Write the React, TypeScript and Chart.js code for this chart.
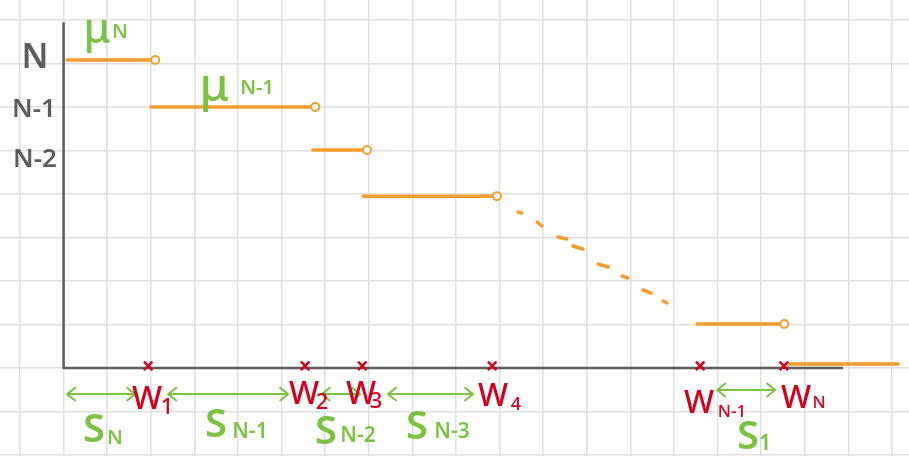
import React, { useEffect, useRef } from "react";
import { Chart, registerables } from "chart.js";

Chart.register(...registerables);

// ---- data (grid units: 1 unit = one grid cell; origin at the axes corner) ----
const stepLevels = [7.08, 6.0, 5.01, 3.95, 1.01, 0.09];
const stepStarts = [0.08, 2.0, 5.72, 6.87, 14.53, 16.6];
const stepEnds = [2.1, 5.77, 6.96, 9.94, 16.53, 19.14];
const stepOpenEnd = [true, true, true, true, true, false];

// hand-drawn dashes between the 4th step and the (N-1)th step, as [x1, x2] / [y1, y2]
const dashX1 = [10.42, 10.86, 11.34, 11.68, 12.26, 12.81, 13.29, 13.75];
const dashX2 = [10.51, 10.97, 11.54, 11.91, 12.49, 12.94, 13.47, 13.84];
const dashY1 = [3.586, 3.356, 3.011, 2.805, 2.391, 2.115, 1.793, 1.54];
const dashY2 = [3.563, 3.264, 2.966, 2.736, 2.322, 2.069, 1.724, 1.494];

const waitTimes = [1.94, 5.54, 6.85, 9.83, 14.6, 16.52];
const waitSubs = ["1", "2", "3", "4", "N-1", "N"];

const spanStarts = [0.08, 2.4, 5.92, 7.44, 14.99];
const spanEnds = [1.64, 5.15, 6.8, 9.39, 16.32];
const spanLevels = [-0.6, -0.6, -0.6, -0.6, -0.506];
const spanSubs = ["N", "N-1", "N-2", "N-3", "1"];

const levelTicks = ["N", "N-1", "N-2"];
const muSubs = ["N", "N-1"];

const axisTop = 7.95;
const axisRight = 17.88;

// ---- layout of the text annotations (grid units) ----
const levelTickPos = [
  { x: -0.656, y: 7.126, size: 34 },
  { x: -0.679, y: 5.931, size: 26 },
  { x: -0.656, y: 4.793, size: 26 },
];
const muPos = [
  { x: 0.766, y: 7.75, sx: 1.294, sy: 7.72, size: 42, subSize: 20 },
  { x: 3.454, y: 6.43, sx: 4.436, sy: 6.43, size: 46, subSize: 20 },
];
const waitPos = [
  { x: 1.913, y: -0.736, sx: 2.37, sy: -0.92, subSize: 22 },
  { x: 5.514, y: -0.621, sx: 5.927, sy: -0.805, subSize: 22 },
  { x: 6.821, y: -0.621, sx: 7.165, sy: -0.782, subSize: 22 },
  { x: 9.849, y: -0.667, sx: 10.376, sy: -0.851, subSize: 18 },
  { x: 14.573, y: -0.828, sx: 15.33, sy: -1.011, subSize: 17 },
  { x: 16.798, y: -0.713, sx: 17.326, sy: -0.805, subSize: 17 },
];
const spanPos = [
  { x: 0.697, y: -1.448, sx: 1.179, sy: -1.609, subSize: 20 },
  { x: 3.495, y: -1.333, sx: 4.275, sy: -1.471, subSize: 21 },
  { x: 6.018, y: -1.494, sx: 6.752, sy: -1.563, subSize: 21 },
  { x: 8.105, y: -1.379, sx: 8.908, sy: -1.471, subSize: 21 },
  { x: 15.697, y: -1.609, sx: 16.087, sy: -1.747, subSize: 22 },
];

const X_MIN = -63.6 / 43.6;
const X_MAX = (909 - 63.6) / 43.6;
const Y_MIN = (368 - 456) / 43.5;
const Y_MAX = 368 / 43.5;

const ORANGE = "#f59d2c";
const GREEN = "#7cc242";
const RED = "#d5001c";
const GRAY = "#5c5c5c";
const FONT = "'Noto Sans', 'DejaVu Sans', sans-serif";

function stepData() {
  const pts: any[] = [];
  stepLevels.forEach((lv, i) => {
    pts.push({ x: stepStarts[i], y: lv });
    pts.push({ x: stepEnds[i], y: lv });
    pts.push({ x: stepEnds[i], y: null });
  });
  return pts;
}

function dashData() {
  const pts: any[] = [];
  dashX1.forEach((x1, i) => {
    pts.push({ x: x1, y: dashY1[i] });
    pts.push({ x: dashX2[i], y: dashY2[i] });
    pts.push({ x: dashX2[i], y: null });
  });
  return pts;
}

const annotations = {
  id: "annotations",
  afterDatasetsDraw(chart: any) {
    const { ctx, scales } = chart;
    const px = (v: number) => scales.x.getPixelForValue(v);
    const py = (v: number) => scales.y.getPixelForValue(v);
    const text = (t: string, x: number, y: number, size: number, color: string, weight = 500) => {
      ctx.save();
      ctx.font = `${weight} ${size}px ${FONT}`;
      ctx.fillStyle = color;
      ctx.textAlign = "center";
      ctx.textBaseline = "middle";
      ctx.fillText(t, px(x), py(y));
      ctx.restore();
    };

    // double-headed span arrows
    ctx.save();
    ctx.strokeStyle = GREEN;
    ctx.lineWidth = 2;
    ctx.lineCap = "round";
    ctx.lineJoin = "round";
    spanStarts.forEach((s, i) => {
      const x1 = px(s);
      const x2 = px(spanEnds[i]);
      const y = py(spanLevels[i]);
      const h = 8;
      ctx.beginPath();
      ctx.moveTo(x1, y);
      ctx.lineTo(x2, y);
      ctx.moveTo(x1 + h, y - h * 0.8);
      ctx.lineTo(x1, y);
      ctx.lineTo(x1 + h, y + h * 0.8);
      ctx.moveTo(x2 - h, y - h * 0.8);
      ctx.lineTo(x2, y);
      ctx.lineTo(x2 - h, y + h * 0.8);
      ctx.stroke();
    });
    ctx.restore();

    levelTicks.forEach((t, i) => {
      const p = levelTickPos[i];
      text(t, p.x, p.y, p.size, GRAY, 600);
    });
    muSubs.forEach((s, i) => {
      const p = muPos[i];
      text("μ", p.x, p.y, p.size, GREEN, 500);
      text(s, p.sx, p.sy, p.subSize, GREEN, 600);
    });
    waitSubs.forEach((s, i) => {
      const p = waitPos[i];
      text("W", p.x, p.y, 32, RED, 500);
      text(s, p.sx, p.sy, p.subSize, RED, 500);
    });
    spanSubs.forEach((s, i) => {
      const p = spanPos[i];
      text("S", p.x, p.y, 40, GREEN, 600);
      text(s, p.sx, p.sy, p.subSize, GREEN, 600);
    });
  },
};

export default function App() {
  const ref = useRef<HTMLCanvasElement>(null);

  useEffect(() => {
    if (!ref.current) return;
    const chart = new Chart(ref.current, {
      type: "line",
      data: {
        datasets: [
          {
            label: "waits",
            data: waitTimes.map((w) => ({ x: w, y: 0.05 })),
            showLine: false,
            pointStyle: "crossRot",
            pointRadius: 6,
            pointBorderColor: RED,
            pointBorderWidth: 2.5,
            borderColor: RED,
            order: 0,
          },
          {
            label: "open ends",
            data: stepLevels
              .map((lv, i) => ({ x: stepEnds[i], y: lv }))
              .filter((_, i) => stepOpenEnd[i]),
            showLine: false,
            pointStyle: "circle",
            pointRadius: 4,
            pointBackgroundColor: "#ffffff",
            pointBorderColor: ORANGE,
            pointBorderWidth: 2,
            borderColor: ORANGE,
            order: 1,
          },
          {
            label: "steps",
            data: stepData(),
            borderColor: ORANGE,
            borderWidth: 3.5,
            borderCapStyle: "round",
            pointRadius: 0,
            spanGaps: false,
            order: 2,
          },
          {
            label: "dashes",
            data: dashData(),
            borderColor: ORANGE,
            borderWidth: 3.5,
            borderCapStyle: "round",
            pointRadius: 0,
            spanGaps: false,
            order: 3,
          },
          {
            label: "axes",
            data: [
              { x: 0, y: axisTop },
              { x: 0, y: 0 },
              { x: axisRight, y: 0 },
            ],
            borderColor: GRAY,
            borderWidth: 2.5,
            pointRadius: 0,
            order: 4,
          },
        ],
      },
      options: {
        responsive: false,
        animation: false,
        events: [],
        layout: { padding: 0, autoPadding: false },
        plugins: {
          legend: { display: false },
          title: { display: false },
          tooltip: { enabled: false },
        },
        scales: {
          x: {
            type: "linear",
            min: X_MIN,
            max: X_MAX,
            afterBuildTicks: (axis: any) => {
              const t: any[] = [];
              for (let v = Math.ceil(X_MIN); v <= Math.floor(X_MAX); v++) t.push({ value: v });
              axis.ticks = t;
            },
            ticks: { display: false },
            grid: { color: "#e0e0e0", lineWidth: 1.5, drawTicks: false },
            border: { display: false },
          },
          y: {
            type: "linear",
            min: Y_MIN,
            max: Y_MAX,
            afterBuildTicks: (axis: any) => {
              const t: any[] = [];
              for (let v = Math.ceil(Y_MIN); v <= Math.floor(Y_MAX); v++) t.push({ value: v });
              axis.ticks = t;
            },
            ticks: { display: false },
            grid: { color: "#e0e0e0", lineWidth: 1.5, drawTicks: false },
            border: { display: false },
          },
        },
      },
      plugins: [annotations],
    });
    return () => chart.destroy();
  }, []);

  return (
    <div style={{ position: "fixed", left: 0, top: 0, width: 909, height: 456, background: "#ffffff" }}>
      <canvas ref={ref} width={909} height={456} style={{ display: "block" }} />
    </div>
  );
}
